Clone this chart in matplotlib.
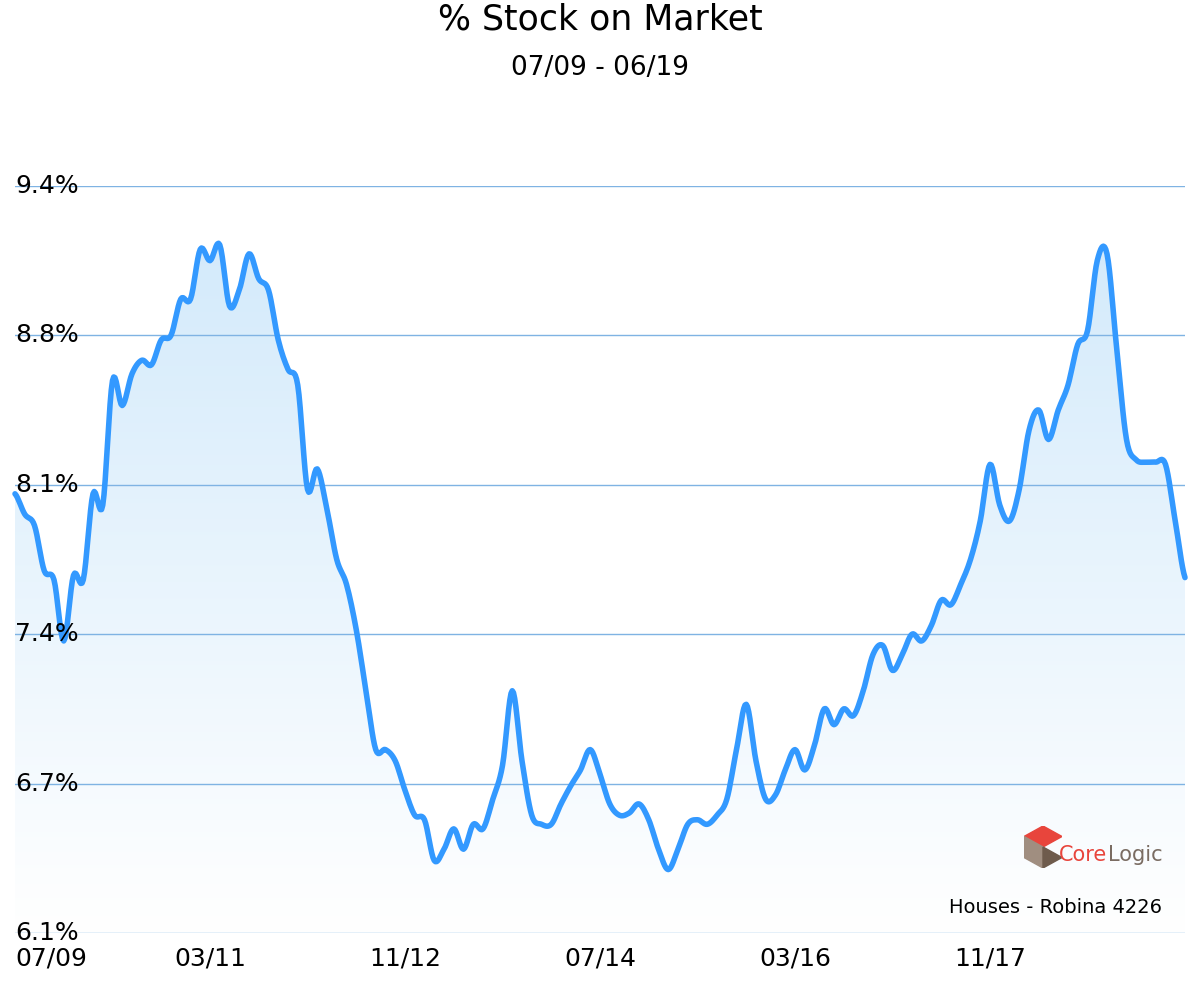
import numpy as np
import matplotlib.pyplot as plt
from matplotlib.patches import Polygon
from matplotlib.colors import LinearSegmentedColormap

# monthly % stock on market, 07/09 .. 07/19
values = [8.04, 7.95, 7.90, 7.70, 7.66, 7.39, 7.68, 7.66, 8.04, 7.99,
          8.54, 8.43, 8.57, 8.63, 8.61, 8.72, 8.74, 8.90, 8.90, 9.12,
          9.07, 9.14, 8.87, 8.94, 9.10, 8.99, 8.94, 8.72, 8.59, 8.52,
          8.06, 8.15, 7.97, 7.75, 7.64, 7.44, 7.17, 6.91, 6.91, 6.86,
          6.73, 6.62, 6.60, 6.42, 6.47, 6.56, 6.47, 6.58, 6.56, 6.69,
          6.84, 7.17, 6.86, 6.62, 6.58, 6.58, 6.67, 6.75, 6.82, 6.91,
          6.80, 6.67, 6.62, 6.63, 6.67, 6.60, 6.47, 6.38, 6.47, 6.58,
          6.60, 6.58, 6.62, 6.69, 6.91, 7.11, 6.86, 6.69, 6.71, 6.82,
          6.91, 6.82, 6.93, 7.09, 7.02, 7.09, 7.06, 7.17, 7.33, 7.37,
          7.26, 7.33, 7.42, 7.39, 7.46, 7.57, 7.55, 7.64, 7.75, 7.92,
          8.17, 7.99, 7.92, 8.06, 8.32, 8.41, 8.28, 8.41, 8.52, 8.70,
          8.76, 9.07, 9.10, 8.68, 8.28, 8.19, 8.18, 8.18, 8.17, 7.92,
          7.67]
ytick_labels = ['6.1%', '6.7%', '7.4%', '8.1%', '8.8%', '9.4%']
xtick_labels = ['07/09', '03/11', '11/12', '07/14', '03/16', '11/17']
xtick_months = [0, 20, 40, 60, 80, 100]
ymin, ymax = 6.1, 9.4


def catmull(y, n=8):
    # smooth curve through the monthly points for drawing
    y = np.asarray(y, float)
    p = np.concatenate([[y[0]], y, [y[-1]]])
    xs, ys = [], []
    for i in range(len(y) - 1):
        p0, p1, p2, p3 = p[i], p[i + 1], p[i + 2], p[i + 3]
        t = np.linspace(0, 1, n, endpoint=False)
        ys.append(0.5 * (2 * p1 + (-p0 + p2) * t + (2 * p0 - 5 * p1 + 4 * p2 - p3) * t ** 2
                         + (-p0 + 3 * p1 - 3 * p2 + p3) * t ** 3))
        xs.append(i + t)
    xs.append([len(y) - 1]); ys.append([y[-1]])
    return np.concatenate(xs), np.concatenate(ys)


xs, ys = catmull(values)

fig = plt.figure(figsize=(12, 9.96), dpi=100)
ax = fig.add_axes([0.0125, 0.0633, 0.975, 0.75])
ax.set_xlim(0, len(values) - 1)
ax.set_ylim(ymin, ymax)

# gradient fill under curve
grad = np.linspace(0, 1, 256).reshape(-1, 1)
cmap = LinearSegmentedColormap.from_list('g', ['#ffffff', '#d3eafb'])
im = ax.imshow(grad, extent=[0, len(values) - 1, ymin, 9.2], origin='lower',
               aspect='auto', cmap=cmap, zorder=1)
poly = Polygon(np.column_stack([np.r_[xs, xs[-1], xs[0]], np.r_[ys, ymin, ymin]]),
               closed=True, facecolor='none', edgecolor='none')
ax.add_patch(poly)
im.set_clip_path(poly)

yt = np.linspace(ymin, ymax, 6)
for v, lab in zip(yt, ytick_labels):
    ax.axhline(v, color='#7fb3e3', lw=1, zorder=2)
    ax.text(0, v, lab, fontsize=18, ha='left', va='center', zorder=4)

ax.plot(xs, ys, color='#3399ff', lw=4, zorder=3, solid_capstyle='round', clip_on=False)

for m, lab in zip(xtick_months, xtick_labels):
    ax.text(m, ymin - 0.06, lab, fontsize=18, ha='left' if m == 0 else 'center', va='top')

for s in ax.spines.values():
    s.set_visible(False)
ax.set_xticks([]); ax.set_yticks([])

fig.text(0.5, 0.98, '% Stock on Market', fontsize=25, ha='center', va='center')
fig.text(0.5, 0.932, '07/09 - 06/19', fontsize=19, ha='center', va='center')
fig.text(0.968, 0.089, 'Houses - Robina 4226', fontsize=14, ha='right', va='center')

# CoreLogic logo
lax = fig.add_axes([1024 / 1200, 1 - 868 / 996, 38 / 1200, 42 / 996])
lax.set_xlim(0, 1); lax.set_ylim(0, 1); lax.axis('off')
lax.add_patch(Polygon([[0, 0.75], [0.5, 1], [1, 0.75], [0.5, 0.5]], color='#e8453c'))
lax.add_patch(Polygon([[0, 0.75], [0.5, 0.5], [0.5, 0], [0, 0.25]], color='#a08e80'))
lax.add_patch(Polygon([[0.5, 0.5], [1, 0.25], [0.5, 0]], color='#6e5b4c'))
fig.text(1107 / 1200, 1 - 855 / 996, 'Core', fontsize=15, color='#e8453c', ha='right', va='center')
fig.text(1108 / 1200, 1 - 855 / 996, 'Logic', fontsize=15, color='#7a6c62', ha='left', va='center')

fig.savefig('out.png', dpi=100)
